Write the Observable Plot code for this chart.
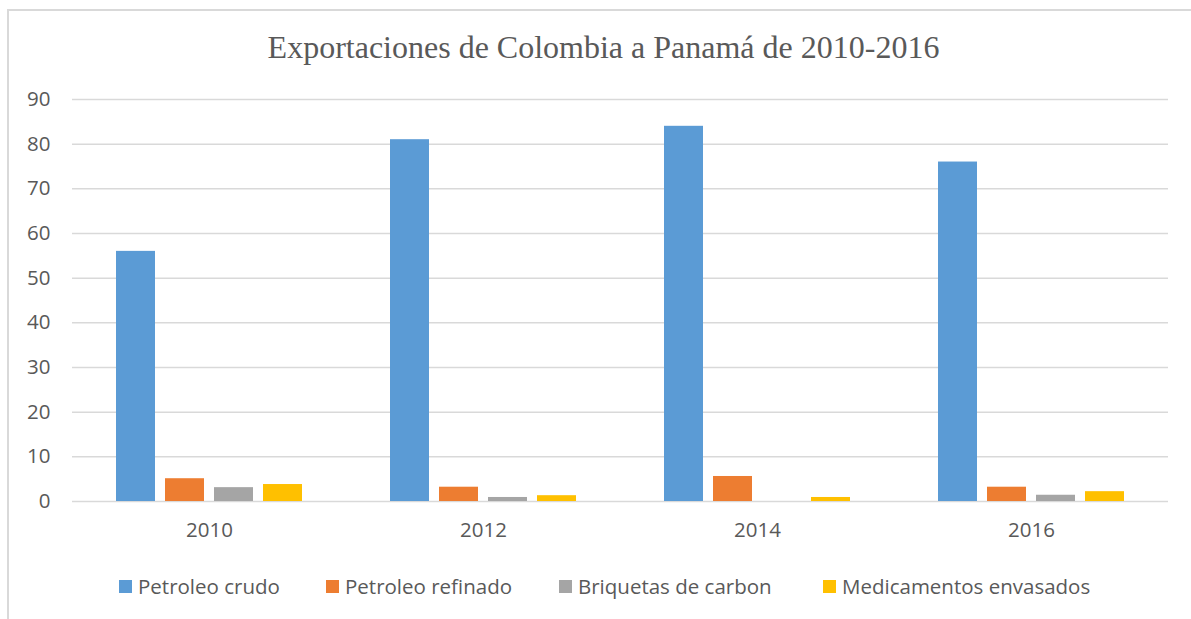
<!DOCTYPE html>
<html>
<head>
<meta charset="utf-8">
<script src="https://cdn.jsdelivr.net/npm/d3@7"></script>
<script src="https://cdn.jsdelivr.net/npm/@observablehq/plot@0.6"></script>
<style>
  html, body { margin: 0; padding: 0; background: #fff; }
  #wrap { position: relative; width: 1191px; height: 619px; overflow: hidden; font-family: "Open Sans", sans-serif; }
  #frame { position: absolute; left: 7px; top: 9px; width: 1200px; height: 700px; border-left: 2px solid #d9d9d9; border-top: 2px solid #d9d9d9; box-sizing: border-box; }
  #title { position: absolute; left: 8px; width: 1191px; top: 27px; text-align: center; font-family: "Liberation Serif", "Times New Roman", serif; font-size: 32px; color: #595959; line-height: 40px; }
  #chart { position: absolute; left: 0; top: 80px; }
  #legend { position: absolute; top: 573px; left: 0; width: 1191px; height: 26px; font-size: 20.5px; color: #595959; }
  .item { position: absolute; top: 0; display: flex; align-items: center; height: 26px; white-space: nowrap; }
  .sw { width: 13px; height: 13px; margin-right: 6px; }
</style>
</head>
<body>
<div id="wrap">
  <div id="frame"></div>
  <div id="title">Exportaciones de Colombia a Panamá de 2010-2016</div>
  <div id="chart"></div>
  <div id="legend"></div>
</div>
<script>
const years = ["2010", "2012", "2014", "2016"];
const series = ["Petroleo crudo", "Petroleo refinado", "Briquetas de carbon", "Medicamentos envasados"];
const colors = ["#5B9BD5", "#ED7D31", "#A5A5A5", "#FFC000"];
const petroleoCrudo = [56, 81, 84, 76];
const petroleoRefinado = [5.1, 3.2, 5.6, 3.2];
const briquetasCarbon = [3.1, 0.9, 0, 1.4];
const medicamentosEnvasados = [3.8, 1.3, 0.9, 2.2];
const yTicks = [0, 10, 20, 30, 40, 50, 60, 70, 80, 90];

const valuesBySeries = [petroleoCrudo, petroleoRefinado, briquetasCarbon, medicamentosEnvasados];
const data = [];
years.forEach((y, i) => series.forEach((s, j) => data.push({year: y, series: s, value: valuesBySeries[j][i]})));

const chart = Plot.plot({
  width: 1191,
  height: 470,
  marginLeft: 70,
  marginRight: 22,
  marginTop: 19,
  marginBottom: 49,
  style: {fontFamily: "Open Sans, sans-serif", fontSize: "20.5px", color: "#595959", background: "transparent"},
  fx: {domain: years, padding: 0, label: null, axis: "bottom", tickSize: 0, tickPadding: 21},
  x: {domain: series, paddingInner: 0.2, paddingOuter: 0.8475, axis: null},
  y: {domain: [0, 90], ticks: yTicks, label: null, tickSize: 0, tickPadding: 22},
  color: {domain: series, range: colors},
  marks: [
    Plot.ruleY(yTicks, {stroke: "#d9d9d9", strokeWidth: 1.5}),
    Plot.barY(data, {fx: "year", x: "series", y: "value", fill: "series"})
  ]
});
document.getElementById("chart").appendChild(chart);

const legend = document.getElementById("legend");
const starts = [119, 326, 559, 823];
series.forEach((s, i) => {
  const it = document.createElement("div");
  it.className = "item";
  it.style.left = starts[i] + "px";
  const sw = document.createElement("span");
  sw.className = "sw";
  sw.style.background = colors[i];
  const t = document.createElement("span");
  t.textContent = s;
  it.appendChild(sw); it.appendChild(t);
  legend.appendChild(it);
});
</script>
</body>
</html>
